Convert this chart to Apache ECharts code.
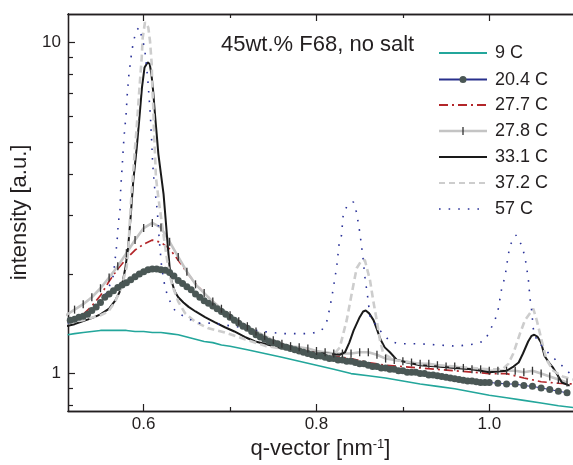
<!DOCTYPE html>
<html>
<head>
<meta charset="utf-8">
<script src="https://cdn.jsdelivr.net/npm/echarts@6/dist/echarts.min.js"></script>
<style>
html,body{margin:0;padding:0;background:#fff;}
#chart{width:573px;height:465px;}
</style>
</head>
<body>
<div id="chart"></div>
<script>
// ---------- data (q in nm^-1, intensity in a.u.) ----------
const seriesNames = ['9 C', '20.4 C', '27.7 C', '27.8 C', '33.1 C', '37.2 C', '57 C'];
const xTickLabels = [0.6, 0.8, 1.0];
const xMinorTicks = [0.7, 0.9];
const yTickLabels = [1, 10];
const yMinorTicks = [0.8, 0.9, 2, 3, 4, 5, 6, 7, 8, 9];

const q9 = [0.512,0.52,0.53,0.54,0.55,0.56,0.57,0.58,0.59,0.60,0.61,0.62,0.63,0.64,0.65,0.66,0.67,0.68,0.69,0.70,0.72,0.74,0.76,0.78,0.80,0.82,0.84,0.86,0.88,0.90,0.92,0.94,0.96,0.98,1.00,1.02,1.04,1.06,1.08,1.097];
const i9 = [1.31,1.32,1.33,1.34,1.35,1.35,1.35,1.35,1.34,1.34,1.33,1.33,1.32,1.31,1.29,1.27,1.25,1.24,1.22,1.21,1.18,1.15,1.12,1.09,1.06,1.03,1.00,0.985,0.97,0.95,0.93,0.915,0.90,0.88,0.86,0.845,0.83,0.815,0.80,0.79];

const q20 = [0.51,0.515,0.52,0.525,0.53,0.535,0.54,0.545,0.55,0.555,0.56,0.565,0.57,0.575,0.58,0.585,0.59,0.595,0.6,0.605,0.61,0.615,0.62,0.625,0.63,0.635,0.64,0.645,0.65,0.655,0.66,0.665,0.67,0.675,0.68,0.685,0.69,0.695,0.7,0.705,0.71,0.715,0.72,0.725,0.73,0.735,0.74,0.745,0.75,0.755,0.76,0.765,0.77,0.775,0.78,0.785,0.79,0.795,0.8,0.805,0.81,0.815,0.82,0.825,0.83,0.835,0.84,0.845,0.85,0.855,0.86,0.865,0.87,0.875,0.88,0.885,0.89,0.895,0.9,0.905,0.91,0.915,0.92,0.925,0.93,0.935,0.94,0.945,0.95,0.955,0.96,0.965,0.97,0.975,0.98,0.985,0.99,0.995,1.0,1.01,1.02,1.03,1.04,1.05,1.06,1.07,1.08,1.09];
const i20 = [1.43,1.45,1.46,1.48,1.49,1.51,1.55,1.59,1.64,1.70,1.74,1.78,1.82,1.85,1.88,1.92,1.96,2.00,2.03,2.06,2.07,2.07,2.06,2.05,2.02,1.97,1.91,1.87,1.83,1.79,1.74,1.70,1.66,1.63,1.60,1.57,1.54,1.51,1.48,1.45,1.42,1.39,1.37,1.34,1.31,1.29,1.27,1.25,1.24,1.23,1.21,1.20,1.19,1.18,1.17,1.16,1.15,1.14,1.13,1.13,1.12,1.11,1.11,1.10,1.10,1.09,1.09,1.08,1.07,1.07,1.06,1.05,1.05,1.04,1.04,1.03,1.03,1.02,1.02,1.01,1.01,1.01,1.00,1.00,0.99,0.99,0.985,0.98,0.975,0.97,0.965,0.96,0.955,0.95,0.95,0.945,0.94,0.94,0.94,0.935,0.93,0.93,0.92,0.915,0.905,0.895,0.885,0.875];

const q277 = [0.51,0.52,0.53,0.54,0.55,0.56,0.57,0.58,0.59,0.60,0.61,0.62,0.63,0.64,0.65,0.66,0.67,0.68,0.69,0.70,0.71,0.72,0.73,0.74,0.75,0.76,0.77,0.78,0.79,0.80,0.82,0.84,0.86,0.88,0.90,0.92,0.94,0.96,0.98,1.00,1.02,1.04,1.06,1.08,1.097];
const i277 = [1.43,1.47,1.51,1.60,1.72,1.90,2.07,2.22,2.36,2.46,2.53,2.49,2.38,2.20,2.02,1.87,1.75,1.65,1.56,1.49,1.43,1.38,1.33,1.29,1.26,1.23,1.21,1.19,1.18,1.16,1.13,1.11,1.08,1.06,1.05,1.04,1.03,1.02,1.01,1.00,1.00,0.97,0.945,0.935,0.93];

const q278 = [0.51,0.52,0.53,0.54,0.55,0.56,0.57,0.58,0.59,0.60,0.61,0.62,0.63,0.64,0.65,0.66,0.67,0.68,0.69,0.70,0.71,0.72,0.73,0.74,0.75,0.76,0.77,0.78,0.79,0.80,0.81,0.82,0.83,0.84,0.85,0.86,0.87,0.88,0.89,0.90,0.91,0.92,0.93,0.94,0.95,0.96,0.97,0.98,0.99,1.00,1.01,1.02,1.03,1.04,1.05,1.06,1.07,1.08,1.09];
const i278 = [1.50,1.56,1.62,1.70,1.81,1.95,2.11,2.31,2.53,2.75,2.85,2.76,2.50,2.25,2.03,1.86,1.75,1.65,1.57,1.50,1.44,1.39,1.34,1.30,1.26,1.23,1.21,1.20,1.19,1.17,1.16,1.15,1.15,1.15,1.16,1.16,1.14,1.11,1.10,1.09,1.08,1.07,1.07,1.06,1.05,1.05,1.04,1.03,1.03,1.02,1.02,1.02,1.02,1.01,1.02,1.00,0.98,0.96,0.94];

const q331 = [0.51,0.52,0.53,0.54,0.55,0.56,0.567,0.572,0.576,0.579,0.582,0.585,0.588,0.59,0.592,0.595,0.598,0.601,0.6045,0.607,0.609,0.611,0.613,0.615,0.617,0.62,0.623,0.626,0.628,0.63,0.632,0.636,0.64,0.646,0.652,0.66,0.671,0.682,0.694,0.705,0.717,0.729,0.74,0.755,0.77,0.79,0.81,0.827,0.833,0.838,0.843,0.85,0.854,0.857,0.861,0.866,0.87,0.874,0.879,0.885,0.893,0.905,0.92,0.94,0.96,0.98,1.0,1.02,1.028,1.034,1.039,1.045,1.049,1.052,1.056,1.06,1.064,1.069,1.074,1.079,1.084,1.093];
const i331 = [1.39,1.41,1.44,1.47,1.51,1.57,1.66,1.76,1.91,2.1,2.41,3.0,3.84,4.3,4.82,5.9,7.3,8.4,8.7,8.6,8.0,7.1,6.1,5.3,4.6,4.0,3.48,2.8,2.41,2.1,1.91,1.77,1.70,1.64,1.59,1.54,1.48,1.43,1.38,1.34,1.29,1.25,1.23,1.20,1.18,1.16,1.15,1.14,1.16,1.24,1.35,1.48,1.54,1.55,1.52,1.45,1.36,1.27,1.20,1.16,1.10,1.08,1.06,1.05,1.04,1.03,1.01,1.02,1.05,1.08,1.15,1.25,1.30,1.31,1.29,1.24,1.13,1.08,1.04,0.99,0.94,0.92];

const q372 = [0.512,0.53,0.55,0.559,0.567,0.5745,0.5803,0.5822,0.584,0.5861,0.588,0.59,0.5919,0.5938,0.5957,0.5977,0.5988,0.6015,0.6053,0.6073,0.6093,0.61,0.6111,0.6119,0.6131,0.6142,0.617,0.621,0.625,0.629,0.633,0.64,0.648,0.66,0.675,0.694,0.717,0.742,0.77,0.80,0.82,0.827,0.835,0.8407,0.8465,0.8523,0.856,0.862,0.8657,0.8697,0.8735,0.8773,0.89,0.92,0.96,1.0,1.015,1.022,1.0278,1.0355,1.0413,1.0509,1.0549,1.0587,1.0625,1.0664,1.0741,1.085,1.097];
const i372 = [1.42,1.45,1.50,1.54,1.65,1.83,2.10,2.38,2.9,3.56,4.1,4.82,5.53,6.52,7.64,8.98,10.3,11.5,11.1,10.1,8.6,7.3,6.36,5.4,4.6,3.9,3.4,2.85,2.4,2.05,1.85,1.65,1.52,1.43,1.37,1.33,1.27,1.21,1.18,1.15,1.14,1.20,1.45,1.74,2.08,2.2,2.2,1.91,1.66,1.45,1.26,1.15,1.10,1.07,1.05,1.03,1.03,1.07,1.15,1.32,1.45,1.57,1.45,1.32,1.20,1.10,1.02,0.98,0.96];

const q57 = [0.512,0.525,0.54,0.55,0.557,0.562,0.565,0.567,0.569,0.5706,0.5726,0.5734,0.5757,0.5772,0.5795,0.581,0.583,0.5861,0.588,0.5911,0.5946,0.5977,0.6007,0.6023,0.6046,0.6065,0.6081,0.6093,0.6104,0.6123,0.615,0.6169,0.618,0.6208,0.6247,0.6285,0.6362,0.6478,0.6632,0.68,0.7115,0.738,0.761,0.794,0.806,0.8125,0.8176,0.8234,0.826,0.829,0.831,0.8357,0.8426,0.8465,0.8503,0.8535,0.856,0.8593,0.862,0.8735,0.885,0.8966,0.92,0.9623,0.9854,0.995,1.0008,1.0066,1.0104,1.0144,1.0182,1.022,1.024,1.0309,1.0375,1.0413,1.0451,1.0471,1.0491,1.0509,1.0549,1.0703,1.0819,1.0934];
const i57 = [1.42,1.47,1.55,1.65,1.76,1.88,1.98,2.22,2.47,2.84,3.12,3.6,4.47,5.17,6.0,6.97,8.06,9.33,10.0,10.8,11.1,10.4,9.7,9.0,7.8,6.7,5.77,5.0,4.3,3.72,3.23,2.84,2.53,2.10,1.82,1.69,1.55,1.48,1.42,1.42,1.38,1.34,1.32,1.32,1.35,1.45,1.69,2.10,2.44,2.62,3.03,3.22,3.3,3.06,2.65,2.28,1.96,1.70,1.48,1.35,1.25,1.23,1.23,1.21,1.23,1.26,1.35,1.45,1.57,1.81,1.96,2.28,2.44,2.62,2.44,2.25,1.94,1.69,1.55,1.37,1.26,1.14,1.07,1.0];

// ---------- chart ----------
const FONT = '"Liberation Sans", Arial, Helvetica, sans-serif';
const INK = '#231f20';
const pairs = (qs, is) => qs.map((q, k) => [q, is[k]]);

const X_MIN = 0.5124, X_MAX = 1.0969;
const Y_MIN = 0.771, Y_MAX = 12.18;

const colors = {
  c9: '#23a69b', c20line: '#28308c', c20dot: '#4a5755', c277: '#b3262a',
  c278: '#c4c4c4', c278tick: '#333333', c331: '#1a1a1a', c372: '#cdcdcd', c57: '#2b3399'
};

function xAxisDef(pos, ticks, len, labels) {
  return {
    type: 'value', position: pos, min: X_MIN, max: X_MAX,
    axisLine: { show: true, onZero: false, lineStyle: { color: INK, width: 1.3 } },
    axisTick: { show: true, inside: true, length: len, customValues: ticks, lineStyle: { color: INK, width: 1.2 } },
    axisLabel: labels ? { show: true, customValues: labels, margin: 5, color: INK, fontSize: 17, fontFamily: FONT,
      formatter: v => Number(v).toFixed(1) } : { show: false },
    splitLine: { show: false }
  };
}
function yAxisDef(ticks, len, labels) {
  return {
    type: 'log', logBase: 10, position: 'left', min: Y_MIN, max: Y_MAX,
    axisLine: { show: true, onZero: false, lineStyle: { color: INK, width: 1.3 } },
    axisTick: { show: true, inside: true, length: len, customValues: ticks, lineStyle: { color: INK, width: 1.2 } },
    axisLabel: labels ? { show: true, customValues: labels, margin: 7, color: INK, fontSize: 17, fontFamily: FONT,
      formatter: v => String(Math.round(v)) } : { show: false },
    splitLine: { show: false }
  };
}

const xAxes = [
  xAxisDef('bottom', xTickLabels, 7, xTickLabels),
  xAxisDef('bottom', xMinorTicks, 4, null),
  xAxisDef('top', xTickLabels, 7, null),
  xAxisDef('top', xMinorTicks, 4, null)
];
xAxes[0].name = 'q-vector [nm{sup|-1}]';
xAxes[0].nameLocation = 'middle';
xAxes[0].nameGap = 16;
xAxes[0].nameTextStyle = { color: INK, fontSize: 22, fontFamily: FONT, verticalAlign: 'top',
  rich: { sup: { fontSize: 13, fontFamily: FONT, color: INK, verticalAlign: 'top', padding: [0, 0, 9, 0] } } };

const yAxes = [ yAxisDef(yTickLabels, 7, yTickLabels), yAxisDef(yMinorTicks, 5, null) ];
yAxes[0].name = 'intensity [a.u.]';
yAxes[0].nameLocation = 'middle';
yAxes[0].nameGap = 33;
yAxes[0].nameTextStyle = { color: INK, fontSize: 22, fontFamily: FONT };

const base = { type: 'line', xAxisIndex: 0, yAxisIndex: 0, silent: true, smooth: false, animation: false };

const series = [
  Object.assign({}, base, { name: seriesNames[0], data: pairs(q9, i9), symbol: 'none',
    lineStyle: { color: colors.c9, width: 1.6 } }),
  Object.assign({}, base, { name: seriesNames[1], data: pairs(q20, i20), symbol: 'circle', symbolSize: 7, showAllSymbol: true,
    itemStyle: { color: colors.c20dot }, lineStyle: { color: colors.c20line, width: 1 } }),
  Object.assign({}, base, { name: seriesNames[2], data: pairs(q277, i277), symbol: 'none',
    lineStyle: { color: colors.c277, width: 1.7, type: [9, 4, 2, 4] } }),
  Object.assign({}, base, { name: seriesNames[3], data: pairs(q278, i278), symbol: 'rect', symbolSize: [1.3, 8], showAllSymbol: true,
    itemStyle: { color: colors.c278tick }, lineStyle: { color: colors.c278, width: 2.6 } }),
  Object.assign({}, base, { name: seriesNames[4], data: pairs(q331, i331), symbol: 'none',
    lineStyle: { color: colors.c331, width: 2 } }),
  Object.assign({}, base, { name: seriesNames[5], data: pairs(q372, i372), symbol: 'none',
    lineStyle: { color: colors.c372, width: 2.6, type: [7, 4] } }),
  Object.assign({}, base, { name: seriesNames[6], data: pairs(q57, i57), symbol: 'none',
    lineStyle: { color: colors.c57, width: 1.6, type: [1.6, 8] } })
];

// legend drawn as graphic items
const legendY = [53, 79.5, 105, 131, 157, 183, 209];
const legendStyles = [
  { stroke: colors.c9, lineWidth: 2 },
  { stroke: colors.c20line, lineWidth: 2 },
  { stroke: colors.c277, lineWidth: 1.8, lineDash: [9, 4, 2, 4] },
  { stroke: colors.c278, lineWidth: 2.6 },
  { stroke: colors.c331, lineWidth: 2 },
  { stroke: colors.c372, lineWidth: 2, lineDash: [6, 4] },
  { stroke: colors.c57, lineWidth: 1.6, lineDash: [1.6, 8] }
];
const graphic = [];
seriesNames.forEach((nm, k) => {
  const y = legendY[k];
  graphic.push({ type: 'line', silent: true, shape: { x1: 439, y1: y, x2: 487, y2: y }, style: legendStyles[k] });
  if (k === 1) graphic.push({ type: 'circle', silent: true, shape: { cx: 463, cy: y, r: 3.5 }, style: { fill: colors.c20dot } });
  if (k === 3) graphic.push({ type: 'line', silent: true, shape: { x1: 463, y1: y - 4, x2: 463, y2: y + 4 }, style: { stroke: colors.c278tick, lineWidth: 1.3 } });
  graphic.push({ type: 'text', silent: true, style: { text: nm, x: 495, y: y + 0.5, font: '18px ' + FONT, fill: INK, verticalAlign: 'middle' } });
});
graphic.push({ type: 'text', silent: true, style: { text: '45wt.% F68, no salt', x: 221, y: 44.5, font: '22px ' + FONT, fill: INK, verticalAlign: 'middle' } });

const chart = echarts.init(document.getElementById('chart'), null, { renderer: 'canvas' });
chart.setOption({
  animation: false,
  backgroundColor: '#ffffff',
  grid: { left: 68, right: 0, top: 14, bottom: 54, containLabel: false },
  xAxis: xAxes,
  yAxis: yAxes,
  series: series,
  graphic: graphic
});
</script>
</body>
</html>
